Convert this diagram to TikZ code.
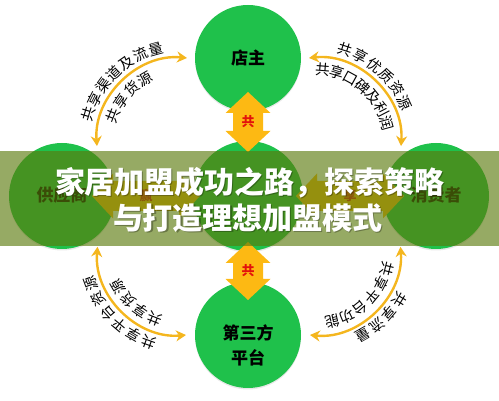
\documentclass[tikz,border=0pt]{standalone}
\usepackage{fontspec}
\setmainfont{Noto Sans CJK SC}
\usetikzlibrary{arrows.meta,decorations.markings,shadows,calc}
\definecolor{leaf}{HTML}{1FC14B}
\definecolor{amber}{HTML}{FDB913}
\definecolor{arcline}{HTML}{F4B61E}
\definecolor{pinred}{HTML}{E3120B}
\definecolor{bandcol}{RGB}{91,122,12}
\tikzset{
    role/.style={circle, fill=leaf, minimum size=106pt, inner sep=0,
        drop shadow={shadow xshift=0pt, shadow yshift=-1.5pt, opacity=.18}},
    rolename/.style={font=\bfseries\fontsize{17pt}{25pt}\selectfont, align=center, inner sep=0},
    pinword/.style={font=\bfseries\fontsize{13pt}{13pt}\selectfont, text=pinred, inner sep=0},
    link/.style={draw=arcline, line width=2.4pt,
        {Stealth[length=10pt,width=11pt]}-{Stealth[length=10pt,width=11pt]}},
    arcword/.style={font=\fontsize{14.5pt}{14.5pt}\selectfont, inner sep=0, transform shape},
    headline/.style={font=\bfseries\fontsize{30pt}{30pt}\selectfont, text=white, inner sep=0}
}
\begin{document}
\begin{tikzpicture}[x=1pt, y=1pt]
    \useasboundingbox (0,0) rectangle (499,401);
    % the five parties
    \node[role] (owner) at (248,343) {};
    \node[role, minimum size=110pt] (hub) at (248,205) {};
    \node[role] (supplier) at (62,205) {};
    \node[role] (consumer) at (436,205) {};
    \node[role] (platform) at (248,66) {};
    \node[rolename] (ownertxt) at (owner.center) {店主};
    \node[rolename] (suppliertxt) at ([yshift=1pt]supplier.center) {供应商};
    \node[rolename] (consumertxt) at ([yshift=1pt]consumer.center) {消费者};
    \node[rolename] (platformtxt) at ([yshift=-10pt]platform.center) {第三方\\平台};
    % double arrows between the circles
    \foreach \px/\py/\ang/\len/\word [count=\i] in {248/279/90/30/共, 248/130/90/29/共, 146/205/0/54/赢, 350/205/0/54/享}{
        \begin{scope}[shift={(\px,\py)}, rotate=\ang]
            \fill[amber] (-\len,0) -- (-\len+21,22.5) -- (-\len+21,15) -- (\len-21,15) -- (\len-21,22.5)
                -- (\len,0) -- (\len-21,-22.5) -- (\len-21,-15) -- (-\len+21,-15) -- (-\len+21,-22.5) -- cycle;
        \end{scope}
        \node[pinword] (word\i) at (\px,\py) {\word};
    }
    % shared things on the arcs
    \coordinate (ula) at ($(supplier)+(55:61)$);
    \coordinate (ulb) at ($(owner)+(180:61)$);
    \coordinate (ura) at ($(owner)+(0:61)$);
    \coordinate (urb) at ($(consumer)+(125:61)$);
    \coordinate (lra) at ($(consumer)+(235:62)$);
    \coordinate (lrb) at ($(platform)+(0:62)$);
    \coordinate (lla) at ($(platform)+(180:62)$);
    \coordinate (llb) at ($(supplier)+(305:62)$);
    \draw[link] (ula) to[bend left=50] (ulb);
    \draw[link] (ura) to[bend left=50] (urb);
    \draw[link] (lra) to[bend left=50] (lrb);
    \draw[link] (lla) to[bend left=50] (llb);
    \foreach \from/\to/\side/\gap/\mid/\n/\chars [count=\j] in {
        ula/ulb/12/0.10/0.50/7/{共,享,渠,道,及,流,量},
        ula/ulb/-12/0.135/0.45/4/{共,享,货,源},
        ura/urb/12/0.10/0.48/6/{共,享,优,质,资,源},
        ura/urb/-12/0.12/0.46/7/{共,享,口,碑,及,利,润},
        lra/lrb/12/0.105/0.50/4/{共,享,流,量},
        lra/lrb/-12/0.13/0.50/6/{共,享,平,台,功,能},
        lla/llb/12/0.105/0.50/6/{共,享,平,台,资,源},
        lla/llb/-12/0.135/0.46/4/{共,享,货,源}}{
        \foreach \ch [count=\k, evaluate=\k as \p using \mid+(\k-(\n+1)/2)*\gap] in \chars
            \path[decorate, decoration={markings, mark=at position \p with {\node[arcword] (w\j-\k) at (0,\side) {\ch};}}]
                (\from) to[bend left=50] (\to);
    }
    % banner with the title
    \fill[bandcol, opacity=.64] (0,155) rectangle (499,250);
    \node[headline, text=black, opacity=.3] (title1s) at (251,217) {家居加盟成功之路，探索策略};
    \node[headline, text=black, opacity=.3] (title2s) at (249,182) {与打造理想加盟模式};
    \node[headline] (title1) at (250,218) {家居加盟成功之路，探索策略};
    \node[headline] (title2) at (248,183) {与打造理想加盟模式};
\end{tikzpicture}
\end{document}
